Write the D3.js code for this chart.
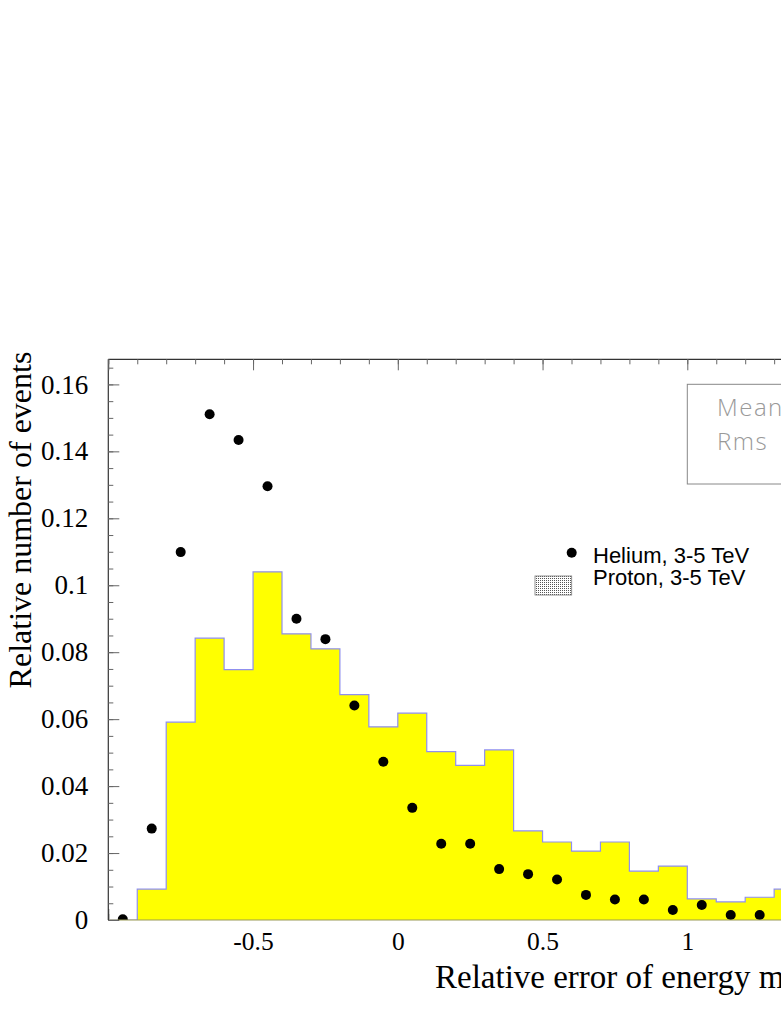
<!DOCTYPE html>
<html>
<head>
<meta charset="utf-8">
<script src="https://cdn.jsdelivr.net/npm/d3@7"></script>
<style>
  html, body { margin: 0; padding: 0; background: #fff; overflow: hidden; }
  svg { display: block; }
</style>
</head>
<body>
<svg id="chart" width="781" height="1011"></svg>
<script>
// ---- data ----
const binLow = [-1.0, -0.9, -0.8, -0.7, -0.6, -0.5, -0.4, -0.3, -0.2, -0.1,
                 0.0, 0.1, 0.2, 0.3, 0.4, 0.5, 0.6, 0.7, 0.8, 0.9, 1.0, 1.1, 1.2, 1.3];
const protonValues = [0.0, 0.0092, 0.0591, 0.0842, 0.0748, 0.1040, 0.0855, 0.0810, 0.0673, 0.0577,
                      0.0618, 0.0503, 0.0462, 0.0508, 0.0266, 0.0233, 0.0206, 0.0233, 0.0146, 0.0161,
                      0.0063, 0.0054, 0.0068, 0.0092];
const binWidth = 0.1;
const heliumX = [-0.95, -0.85, -0.75, -0.65, -0.55, -0.45, -0.35, -0.25, -0.15, -0.05,
                  0.05, 0.15, 0.25, 0.35, 0.45, 0.55, 0.65, 0.75, 0.85, 0.95, 1.05, 1.15, 1.25];
const heliumValues = [0.0002, 0.0273, 0.1099, 0.1511, 0.1434, 0.1296, 0.0900, 0.0839, 0.0641, 0.0473,
                      0.0335, 0.0228, 0.0228, 0.0152, 0.0137, 0.0121, 0.0075, 0.0061, 0.0061, 0.0030,
                      0.0045, 0.0015, 0.0015];
const xTickLabels = [-0.5, 0, 0.5, 1];
const yTickLabels = [0, 0.02, 0.04, 0.06, 0.08, 0.1, 0.12, 0.14, 0.16];
const legendLabels = ["Helium, 3-5 TeV", "Proton, 3-5 TeV"];
const statsLabels = ["Mean", "Rms"];
const xTitle = "Relative error of energy measurement";
const yTitle = "Relative number of events";

// ---- layout ----
const L = 108.3, T = 359.3, B = 920;
const R = L + 3 * 289.5;
const svg = d3.select("#chart");
const x = d3.scaleLinear().domain([-1, 2]).range([L, R]);
const y = d3.scaleLinear().domain([0, 0.1675]).range([B, T]);

const defs = svg.append("defs");
defs.append("clipPath").attr("id", "plotclip")
  .append("rect").attr("x", L).attr("y", T).attr("width", R - L).attr("height", B - T);
const pat = defs.append("pattern").attr("id", "dots")
  .attr("patternUnits", "userSpaceOnUse").attr("width", 2).attr("height", 2);
pat.append("rect").attr("width", 2).attr("height", 2).attr("fill", "#fff");
pat.append("rect").attr("width", 1).attr("height", 1).attr("fill", "#555");

// bottom ticks (drawn first, under the fill)
const xMinor = d3.range(-10, 21).map(i => i / 10);
const xMajor = d3.range(-2, 5).map(i => i / 2);
svg.append("g").attr("transform", `translate(0,${B})`)
  .call(d3.axisBottom(x).tickValues(xMinor).tickSize(-6).tickFormat(""))
  .call(g => g.select(".domain").remove())
  .call(g => g.selectAll("line").attr("stroke", "#777"));
svg.append("g").attr("transform", `translate(0,${B})`)
  .call(d3.axisBottom(x).tickValues(xMajor).tickSize(-11).tickFormat(""))
  .call(g => g.select(".domain").remove())
  .call(g => g.selectAll("line").attr("stroke", "#777"));

// histogram
const histPts = binLow.map((b, i) => [b, protonValues[i]]);
histPts.push([binLow[binLow.length - 1] + binWidth, protonValues[protonValues.length - 1]]);
const area = d3.area().x(d => x(d[0])).y0(y(0)).y1(d => y(d[1])).curve(d3.curveStepAfter);
const line = d3.line().x(d => x(d[0])).y(d => y(d[1])).curve(d3.curveStepAfter);
const hg = svg.append("g").attr("clip-path", "url(#plotclip)");
hg.append("path").datum(histPts).attr("d", area).attr("fill", "#ffff00");
hg.append("path").datum(histPts).attr("d", line)
  .attr("fill", "none").attr("stroke", "#8f8fef").attr("stroke-width", 1.2);
hg.append("path").datum([[binLow[binLow.length - 1] + binWidth, protonValues[protonValues.length - 1]],
                         [binLow[binLow.length - 1] + binWidth, 0]])
  .attr("d", d3.line().x(d => x(d[0])).y(d => y(d[1])))
  .attr("fill", "none").attr("stroke", "#8f8fef").attr("stroke-width", 1.2);

// helium points
svg.append("g").attr("clip-path", "url(#plotclip)")
  .selectAll("circle").data(heliumX).join("circle")
  .attr("cx", d => x(d)).attr("cy", (d, i) => y(heliumValues[i])).attr("r", 5)
  .attr("fill", "#000");

// frame lines
svg.append("line").attr("x1", L).attr("x2", R).attr("y1", B).attr("y2", B)
  .attr("stroke", "#9a9a55").attr("stroke-width", 1.2);
svg.append("line").attr("x1", L).attr("x2", R).attr("y1", T).attr("y2", T)
  .attr("stroke", "#333").attr("stroke-width", 1.2);
svg.append("line").attr("x1", L).attr("x2", L).attr("y1", T).attr("y2", B)
  .attr("stroke", "#333").attr("stroke-width", 1.2);

// top ticks
svg.append("g").attr("transform", `translate(0,${T})`)
  .call(d3.axisTop(x).tickValues(xMinor).tickSize(-5).tickFormat(""))
  .call(g => g.select(".domain").remove())
  .call(g => g.selectAll("line").attr("stroke", "#666"));
svg.append("g").attr("transform", `translate(0,${T})`)
  .call(d3.axisTop(x).tickValues(xMajor).tickSize(-11).tickFormat(""))
  .call(g => g.select(".domain").remove())
  .call(g => g.selectAll("line").attr("stroke", "#666"));

// left ticks
const yMinor = d3.range(0, 34).map(i => i * 0.005);
svg.append("g").attr("transform", `translate(${L},0)`)
  .call(d3.axisLeft(y).tickValues(yMinor).tickSize(-5).tickFormat(""))
  .call(g => g.select(".domain").remove())
  .call(g => g.selectAll("line").attr("stroke", "#666"));
svg.append("g").attr("transform", `translate(${L},0)`)
  .call(d3.axisLeft(y).tickValues(yTickLabels).tickSize(-11).tickPadding(20)
        .tickFormat(d => d === 0 ? "0" : String(+d.toFixed(2))))
  .call(g => g.select(".domain").remove())
  .call(g => g.selectAll("line").attr("stroke", "#666"))
  .call(g => g.selectAll("text").attr("font-family", "'Liberation Serif', 'Times New Roman', serif")
        .attr("font-size", 27).attr("fill", "#000"));

// x labels
svg.append("g").attr("transform", `translate(0,${B})`)
  .call(d3.axisBottom(x).tickValues(xTickLabels).tickSize(0).tickPadding(12)
        .tickFormat(d => String(d)))
  .call(g => g.select(".domain").remove())
  .call(g => g.selectAll("text").attr("font-family", "'Liberation Serif', 'Times New Roman', serif")
        .attr("font-size", 25.5).attr("fill", "#000"));

// axis titles
svg.append("text").attr("x", 435).attr("y", 988)
  .attr("font-family", "'Liberation Serif', 'Times New Roman', serif").attr("font-size", 33)
  .attr("fill", "#000").text(xTitle);
svg.append("text").attr("transform", "translate(31,520) rotate(-90)")
  .attr("text-anchor", "middle")
  .attr("font-family", "'Liberation Serif', 'Times New Roman', serif").attr("font-size", 32)
  .attr("fill", "#000").text(yTitle);

// stats box
svg.append("rect").attr("x", 687.3).attr("y", 384.3).attr("width", 250).attr("height", 99.7)
  .attr("fill", "#fff").attr("stroke", "#888").attr("stroke-width", 1);
svg.selectAll("text.stat").data(statsLabels).join("text").attr("class", "stat")
  .attr("x", 717).attr("y", (d, i) => 416 + i * 34)
  .attr("font-family", "'Open Sans', 'DejaVu Sans', sans-serif").attr("font-weight", 300)
  .attr("font-size", 24).attr("letter-spacing", 1.5).attr("fill", "#999").text(d => d);

// legend
svg.append("circle").attr("cx", 571.7).attr("cy", 552.7).attr("r", 5).attr("fill", "#000");
svg.append("rect").attr("x", 535).attr("y", 576).attr("width", 36.7).attr("height", 19)
  .attr("fill", "url(#dots)").attr("stroke", "#777").attr("stroke-width", 0.8);
svg.selectAll("text.leg").data(legendLabels).join("text").attr("class", "leg")
  .attr("x", 593).attr("y", (d, i) => 562.7 + i * 22.3)
  .attr("font-family", "'Liberation Sans', Arial, sans-serif").attr("font-size", 22)
  .attr("fill", "#000").text(d => d);
</script>
</body>
</html>
